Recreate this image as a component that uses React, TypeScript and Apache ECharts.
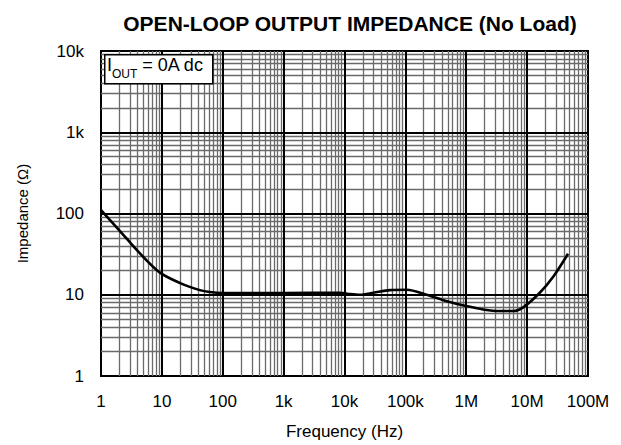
import React, { useEffect, useRef } from "react";
import * as echarts from "echarts";

const freqHz = [1, 2, 4.4, 9.3, 20, 42, 61, 100, 1000, 8400, 12300, 18000, 30000, 56000, 105000, 224000, 480000, 1e6, 1.9e6, 3.5e6, 5.9e6, 8.6e6, 1.6e7, 2.7e7, 4.7e7];
const impedanceOhm = [110, 62, 32, 18.7, 13.9, 11.4, 10.8, 10.5, 10.5, 10.6, 10.2, 10.0, 10.6, 11.4, 11.5, 10.0, 8.3, 7.25, 6.6, 6.3, 6.3, 7.0, 10.5, 16.8, 32];

const xTickLabels: Record<string, string> = {
  "1": "1", "10": "10", "100": "100", "1000": "1k", "10000": "10k",
  "100000": "100k", "1000000": "1M", "10000000": "10M", "100000000": "100M",
};
const yTickLabels: Record<string, string> = {
  "1": "1", "10": "10", "100": "100", "1000": "1k", "10000": "10k",
};

const xDecades = [1, 10, 100, 1e3, 1e4, 1e5, 1e6, 1e7, 1e8];
const yDecades = [1, 10, 100, 1e3, 1e4];
const minorSteps = [2, 3, 4, 5, 6, 7, 8, 9];

const FONT = "'Liberation Sans', Arial, Helvetica, sans-serif";

export default function App() {
  const ref = useRef<HTMLDivElement>(null);
  useEffect(() => {
    if (!ref.current) return;
    const chart = echarts.init(ref.current, null, { renderer: "svg" });

    const xMinor: number[] = [];
    xDecades.slice(0, -1).forEach((d) => minorSteps.forEach((m) => xMinor.push(d * m)));
    const yMinor: number[] = [];
    yDecades.slice(0, -1).forEach((d) => minorSteps.forEach((m) => yMinor.push(d * m)));

    const minorStyle = { color: "#6a6a6a", width: 1.3, type: "solid" as const };
    const majorStyle = { color: "#000", width: 2, type: "solid" as const };

    const fmt = (map: Record<string, string>) => (v: number) => {
      const k = String(Math.round(v));
      return map[k] ?? "";
    };

    chart.setOption({
      animation: false,
      title: {
        text: "OPEN-LOOP OUTPUT IMPEDANCE (No Load)",
        left: 345,
        top: 8,
        textAlign: "center",
        textStyle: { fontFamily: FONT, fontSize: 21, fontWeight: "bold", color: "#000" },
      },
      grid: {
        left: 101, right: 33, top: 51, bottom: 64,
        show: true, borderColor: "#000", borderWidth: 2, backgroundColor: "#fff",
      },
      xAxis: {
        type: "log", logBase: 10, min: 1, max: 1e8, splitNumber: 8,
        name: "Frequency (Hz)", nameLocation: "middle", nameGap: 47,
        nameTextStyle: { fontFamily: FONT, fontSize: 17, color: "#000" },
        axisLine: { show: false }, axisTick: { show: false },
        splitLine: { show: false }, minorSplitLine: { show: false },
        axisLabel: { formatter: fmt(xTickLabels), fontFamily: FONT, fontSize: 17, color: "#000", margin: 17 },
      },
      yAxis: {
        type: "log", logBase: 10, min: 1, max: 1e4, splitNumber: 4,
        name: "Impedance (Ω)", nameLocation: "middle", nameGap: 71,
        nameTextStyle: { fontFamily: FONT, fontSize: 15, color: "#000" },
        axisLine: { show: false }, axisTick: { show: false },
        splitLine: { show: false },
        axisLabel: { formatter: fmt(yTickLabels), fontFamily: FONT, fontSize: 17, color: "#000", margin: 17 },
      },
      series: [
        {
          type: "line", data: [], silent: true, z: 1,
          markLine: {
            silent: true, symbol: "none", label: { show: false }, animation: false,
            lineStyle: minorStyle,
            data: [...xMinor.map((v) => ({ xAxis: v })), ...yMinor.map((v) => ({ yAxis: v }))],
          },
        },
        {
          type: "line", data: [], silent: true, z: 2,
          markLine: {
            silent: true, symbol: "none", label: { show: false }, animation: false,
            lineStyle: majorStyle,
            data: [...xDecades.slice(1, -1).map((v) => ({ xAxis: v })), ...yDecades.slice(1, -1).map((v) => ({ yAxis: v }))],
          },
        },
        {
          type: "line", z: 5, smooth: 0.3, showSymbol: false, symbol: "none",
          data: freqHz.map((f, i) => [f, impedanceOhm[i]]),
          lineStyle: { color: "#000", width: 2.6 },
        },
      ],
      graphic: [
        {
          type: "rect", left: 104, top: 54, z: 100, zlevel: 0,
          shape: { x: 0, y: 0, width: 108, height: 29 },
          style: { fill: "#fff", stroke: "#000", lineWidth: 1.5 },
        },
        {
          type: "text", left: 107, top: 56, z: 101, zlevel: 0,
          style: {
            text: "{a|I}{b|OUT}{a| = 0A dc}",
            rich: {
              a: { fontFamily: FONT, fontSize: 18, color: "#000", lineHeight: 24, verticalAlign: "top" },
              b: { fontFamily: FONT, fontSize: 12, color: "#000", lineHeight: 24, verticalAlign: "bottom", padding: [10, 0, 0, 0] },
            },
          },
        },
      ],
    });
    return () => chart.dispose();
  }, []);
  return <div ref={ref} style={{ position: "absolute", left: 0, top: 0, width: 621, height: 445 }} />;
}
